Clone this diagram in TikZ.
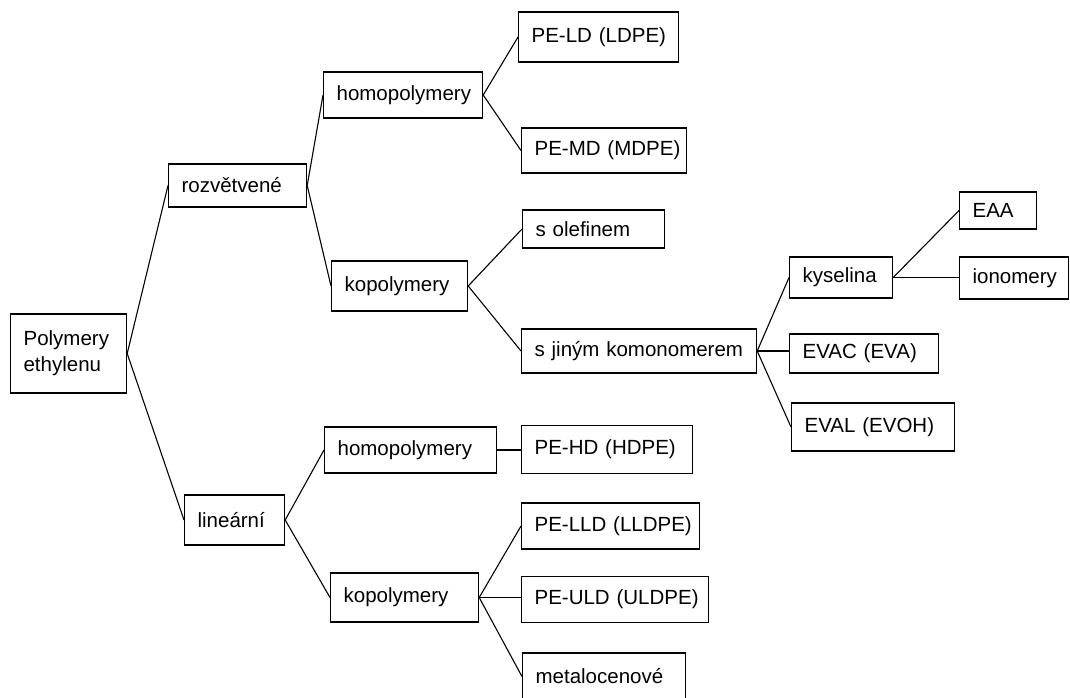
\documentclass[tikz,border=0pt]{standalone}
\usepackage{fontspec}
\setmainfont{Liberation Sans}
\newcommand{\bt}[1]{\mbox{#1}}
\begin{document}
\begin{tikzpicture}[x=1pt,y=-1pt,
  bx/.style={draw=black, line width=1.2pt, rectangle, anchor=west, inner xsep=13pt, inner ysep=0pt,
    align=left, font=\fontsize{20.5}{26}\selectfont, text=black},
  ln/.style={draw=black, line width=1.1pt}]
\useasboundingbox (0,0) rectangle (1070,697);
% level 0
\node[bx, text width=90pt, minimum height=79pt] (poly) at (10,353.5) {Polymery\\ethylenu};
% level 1
\node[bx, text width=112pt, minimum height=43pt] (roz) at (168,185.5) {\bt{rozvětvené}};
\node[bx, text width=74pt, minimum height=50pt] (lin) at (184,520) {\bt{lineární}};
% level 2
\node[bx, text width=133pt, minimum height=46pt] (homoA) at (323,95) {\bt{homopolymery}};
\node[bx, text width=110pt, minimum height=50pt] (kopA) at (331,286) {\bt{kopolymery}};
\node[bx, text width=146pt, minimum height=46pt] (homoB) at (324,450) {\bt{homopolymery}};
\node[bx, text width=122pt, minimum height=49pt] (kopB) at (330,597.5) {\bt{kopolymery}};
% level 3
\node[bx, text width=134pt, minimum height=50pt] (ld) at (518,37) {\bt{PE-LD (LDPE)}};
\node[bx, text width=139pt, minimum height=45pt] (md) at (521,150.5) {\bt{PE-MD (MDPE)}};
\node[bx, text width=116pt, minimum height=38pt] (ole) at (522,229) {\bt{s olefinem}};
\node[bx, text width=209pt, minimum height=44pt] (jin) at (521,351) {\bt{s jiným komonomerem}};
\node[bx, text width=145pt, minimum height=48pt] (hd) at (521,449.5) {\bt{PE-HD (HDPE)}};
\node[bx, text width=152pt, minimum height=46pt] (lld) at (521,526) {\bt{PE-LLD (LLDPE)}};
\node[bx, text width=161pt, minimum height=46pt] (uld) at (521,599.5) {\bt{PE-ULD (ULDPE)}};
\node[bx, text width=137pt, minimum height=47pt] (met) at (522,676.5) {\bt{metalocenové}};
% level 4
\node[bx, text width=77pt, minimum height=41pt] (kys) at (789,277.5) {\bt{kyselina}};
\node[bx, text width=123pt, minimum height=39pt] (evac) at (789,353.5) {\bt{EVAC (EVA)}};
\node[bx, text width=137pt, minimum height=48pt] (eval) at (791,427) {\bt{EVAL (EVOH)}};
% level 5
\node[bx, text width=51pt, minimum height=37pt] (eaa) at (959,210.5) {\bt{EAA}};
\node[bx, text width=83pt, minimum height=42pt] (ion) at (959,278) {\bt{ionomery}};
% connectors
\draw[ln] (poly.east) -- (roz.west);
\draw[ln] (poly.east) -- (lin.west);
\draw[ln] (roz.east) -- (homoA.west);
\draw[ln] (roz.east) -- (kopA.west);
\draw[ln] (lin.east) -- (homoB.west);
\draw[ln] (lin.east) -- (kopB.west);
\draw[ln] (homoA.east) -- (ld.west);
\draw[ln] (homoA.east) -- (md.west);
\draw[ln] (kopA.east) -- (ole.west);
\draw[ln] (kopA.east) -- (jin.west);
\draw[ln] (homoB.east) -- (homoB.east -| hd.west);
\draw[ln] (kopB.east) -- (lld.west);
\draw[ln] (kopB.east) -- (kopB.east -| uld.west);
\draw[ln] (kopB.east) -- (met.west);
\draw[ln] (jin.east) -- (kys.west);
\draw[ln] (jin.east) -- (jin.east -| evac.west);
\draw[ln] (jin.east) -- (eval.west);
\draw[ln] (kys.east) -- (eaa.west);
\draw[ln] (kys.east) -- (kys.east -| ion.west);
\end{tikzpicture}
\end{document}
